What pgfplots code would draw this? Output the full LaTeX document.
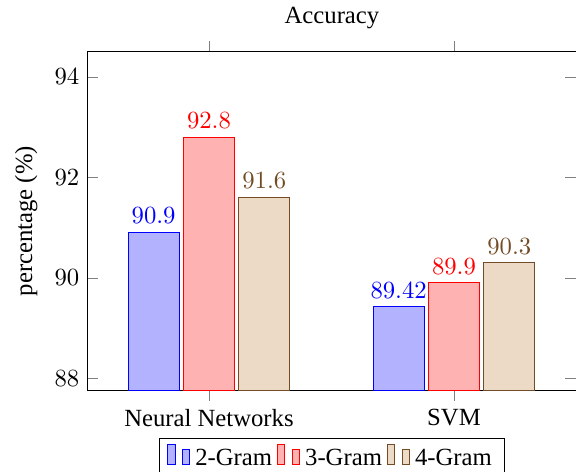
\documentclass[border=0pt]{standalone}
\usepackage[no-math]{fontspec}
\setmainfont{Liberation Serif}
\usepackage{pgfplots}
\pgfplotsset{compat=1.18}

\begin{document}
\begin{tikzpicture}
\begin{axis}[
  scale only axis,
  width=197.6pt, height=137pt,
  ybar=1.7pt, bar width=20.7pt,
  xmin=-0.494, xmax=1.498,
  ymin=87.76, ymax=94.5,
  xtick={0,1},
  xticklabels={Neural Networks, SVM},
  ytick={88,90,92,94},
  title={Accuracy},
  ylabel={percentage (\%)},
  nodes near coords,
  legend style={at={(0.5,-0.142)}, anchor=north, legend columns=-1},
]
\addplot coordinates {(0,90.9) (1,89.42)};
\addplot coordinates {(0,92.8) (1,89.9)};
\addplot coordinates {(0,91.6) (1,90.3)};
\legend{2-Gram,3-Gram,4-Gram}
\end{axis}
\pgfresetboundingbox
\path[use as bounding box] ([xshift=-35.6pt,yshift=-33pt]current axis.south west)
  rectangle ([yshift=21pt]current axis.north east);
\end{tikzpicture}
\end{document}
